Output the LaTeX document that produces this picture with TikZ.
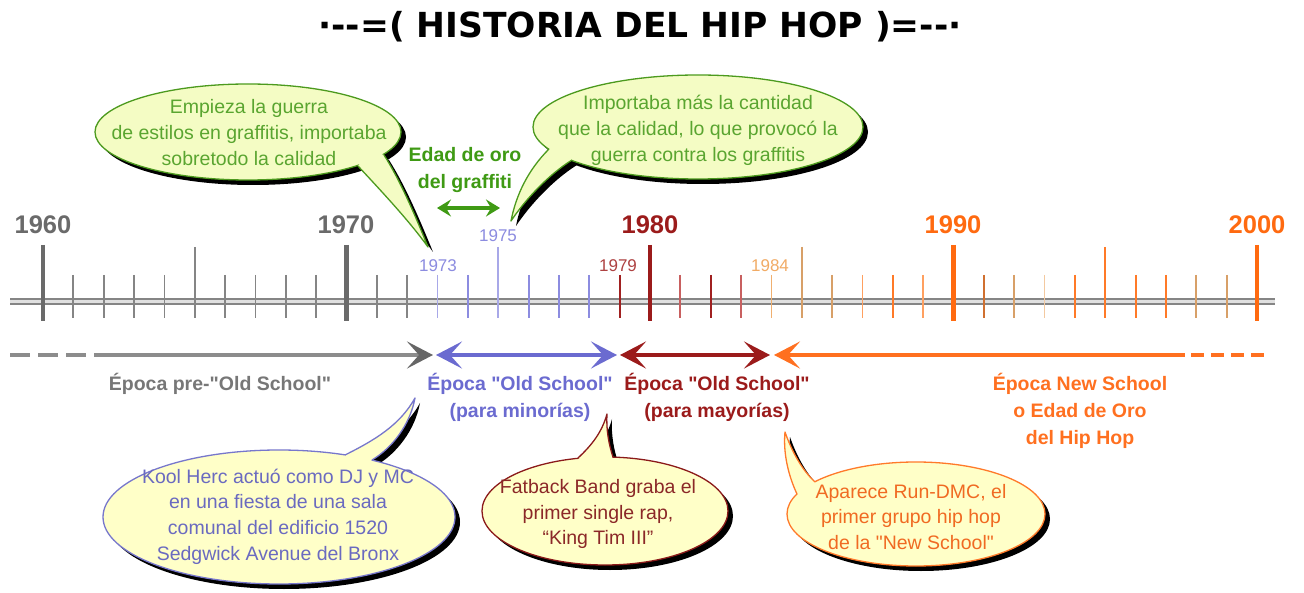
\documentclass[tikz,border=0pt]{standalone}
\usepackage{fontspec}
\setmainfont{Liberation Sans}[Ligatures=TeXOff]
\newfontfamily\titlefont{DejaVu Sans}[Ligatures=TeXOff]
\usetikzlibrary{arrows.meta,shapes.geometric}
\definecolor{tgray}{HTML}{858585}
\definecolor{tdark}{HTML}{6A6A6A}
\definecolor{tblue}{HTML}{8C8CE0}
\definecolor{tblueL}{HTML}{A8A8E8}
\definecolor{tred}{HTML}{A02020}
\definecolor{tredL}{HTML}{C86060}
\definecolor{tdred}{HTML}{9B1B1B}
\definecolor{torL}{HTML}{F0B070}
\definecolor{ttan}{HTML}{D8A068}
\definecolor{torL2}{HTML}{FFA060}
\definecolor{tor}{HTML}{FF7A28}
\definecolor{torD}{HTML}{FF6A10}
\definecolor{tbr}{HTML}{D07030}
\definecolor{tpale}{HTML}{F3C9A0}
\definecolor{gline}{HTML}{4C9A1E}
\definecolor{gtext}{HTML}{5AA530}
\definecolor{gbold}{HTML}{3F9A14}
\definecolor{gfill}{HTML}{F4FCC4}
\definecolor{yfill}{HTML}{FFFFC8}
\definecolor{bline}{HTML}{7777CC}
\definecolor{btext}{HTML}{6A6AC0}
\definecolor{rline}{HTML}{8B1A1A}
\definecolor{rtext}{HTML}{8B2828}
\definecolor{oline}{HTML}{FF7A2A}
\definecolor{otext}{HTML}{F06A22}
\definecolor{lgray}{HTML}{777777}
\definecolor{lblue}{HTML}{6B6BD0}
\definecolor{lorange}{HTML}{FF7020}
\tikzset{
  tick/.style={line width=1.8pt},
  bigtick/.style={line width=4.5pt},
  lbl/.style={font=\bfseries\fontsize{19.5}{27}\selectfont, align=center, inner sep=0pt},
  btxt/.style={font=\fontsize{19.5}{25.7}\selectfont, align=center, inner sep=0pt},
  yr/.style={font=\bfseries\fontsize{25.5}{30}\selectfont, inner sep=0pt},
  syr/.style={font=\fontsize{17}{20}\selectfont, inner sep=0pt},
  bub/.style={ellipse, inner sep=0pt, outer sep=0pt, line width=1.3pt},
  shad/.style={ellipse, inner sep=0pt, outer sep=0pt, fill=black},
  era/.style={line width=4.5pt},
  tailline/.style={line width=1.3pt, line join=round},
  myhead/.tip={Stealth[length=26pt,width=27pt,inset=12pt]},
  smallhead/.tip={Stealth[length=14pt,width=17pt,inset=5pt]}
}
\begin{document}
\begin{tikzpicture}[x=1pt,y=-1pt]
\useasboundingbox (0,0) rectangle (1304,593);
\fill[white] (0,0) rectangle (1304,593);

% title
\node[font=\titlefont\bfseries\fontsize{34.5}{41}\selectfont, inner sep=0pt] (title) at (640,27) {·--=( HISTORIA DEL HIP HOP )=--·};

% axis
\draw[draw=tgray, line width=1.6pt, double=black!12, double distance=3.4pt] (10,301.5) -- (1275,301.5);

% minor ticks
\foreach \yr/\cc in {1961/tgray,1962/tgray,1963/tgray,1964/tgray,1966/tgray,1967/tgray,1968/tgray,1969/tgray,1971/tgray,1972/tgray,
  1973/tblueL,1974/tblue,1976/tblue,1977/tblue,1978/tblue,1979/tred,1981/tredL,1982/tred,1983/tredL,
  1984/torL,1986/ttan,1987/torL2,1988/tor,1989/torL2,1991/tbr,1992/ttan,1993/tpale,1994/tor,1996/tor,1997/tor,1998/ttan,1999/ttan}
  \draw[tick,\cc] ({43+(\yr-1960)*30.35},275) -- ({43+(\yr-1960)*30.35},318);
% five-year ticks
\foreach \yr/\cc in {1965/tgray,1975/tblueL,1985/ttan,1995/tor}
  \draw[tick,\cc] ({43+(\yr-1960)*30.35},247) -- ({43+(\yr-1960)*30.35},318);
% decade ticks
\foreach \yr/\cc in {1960/tdark,1970/tdark,1980/tdred,1990/torD,2000/torD}
  \draw[bigtick,\cc] ({43+(\yr-1960)*30.35},245) -- ({43+(\yr-1960)*30.35},321);

% decade labels
\node[yr, tdark] (y1960) at (43,225) {1960};
\node[yr, tdark] (y1970) at (346,225) {1970};
\node[yr, tdred] (y1980) at (650,225) {1980};
\node[yr, torD] (y1990) at (953,225) {1990};
\node[yr, torD] (y2000) at (1257,225) {2000};
% small year labels
\node[syr, tblue] (y1973) at (438,266) {1973};
\node[syr, tblue] (y1975) at (498,236) {1975};
\node[syr, tred!85] (y1979) at (618,266) {1979};
\node[syr, torL!90!orange] (y1984) at (770,266) {1984};

% era arrows
\coordinate (g0) at (10,355);
\coordinate (g1) at (90,355);
\coordinate (g2) at (94,355);
\coordinate (g3) at (433,355);
\coordinate (b0) at (436,355);
\coordinate (b1) at (617,355);
\coordinate (r0) at (620,355);
\coordinate (r1) at (770,355);
\coordinate (o0) at (774,355);
\coordinate (o1) at (1185,355);
\coordinate (o2) at (1191,355);
\coordinate (o3) at (1268,355);
\draw[era, black!45, dash pattern=on 20pt off 8pt] (g0) -- (g1);
\draw[era, black!45, -{myhead[color=black!60]}] (g2) -- (g3);
\draw[era, lblue, {myhead}-{myhead}] (b0) -- (b1);
\draw[era, tdred, {myhead}-{myhead}] (r0) -- (r1);
\draw[era, lorange, {myhead}-] (o0) -- (o1);
\draw[era, lorange, dash pattern=on 13pt off 7pt] (o2) -- (o3);

% era labels
\node[lbl, lgray] (e1) at (220,384) {Época pre-"Old School"};
\node[lbl, lblue] (e2) at (520,397) {Época "Old School"\\(para minorías)};
\node[lbl, tdred] (e3) at (717,397) {Época "Old School"\\(para mayorías)};
\node[lbl, lorange] (e4) at (1080,410.5) {Época New School\\o Edad de Oro\\del Hip Hop};

% golden age of graffiti
\node[lbl, gbold] (gold) at (465,170) {Edad de oro\\del graffiti};
\coordinate (ga) at (437,208);
\coordinate (gb) at (500,208);
\draw[line width=4pt, gbold, {smallhead}-{smallhead}] (ga) -- (gb);

% ---------- bubble 1 (top left, green)
\begin{scope}[shift={(5,5)}]
\fill[black] (358,166) .. controls (385,195) and (410,222) .. (428,247) .. controls (415,215) and (400,180) .. (384,155) -- (370,150) -- cycle;
\end{scope}
\node[shad, minimum width=306pt, minimum height=96pt] (s1) at (253,137) {};
\node[bub, draw=gline, fill=gfill, minimum width=306pt, minimum height=96pt] (k1) at (248,132) {};
\fill[gfill] (358,166) .. controls (385,195) and (410,222) .. (428,247) .. controls (415,215) and (400,180) .. (384,155) -- (370,150) -- cycle;
\coordinate (t1) at (428,247);
\draw[tailline, gline] (358,166) .. controls (385,195) and (410,222) .. (t1) .. controls (415,215) and (400,180) .. (384,155);
\node[btxt, gtext] (x1) at (249,132.5) {Empieza la guerra\\de estilos en graffitis, importaba\\sobretodo la calidad};

% ---------- bubble 2 (top right, green)
\begin{scope}[shift={(5,5)}]
\fill[black] (549,149) .. controls (528,170) and (516,195) .. (511,221) .. controls (525,200) and (548,175) .. (572,160) -- (565,148) -- cycle;
\end{scope}
\node[shad, minimum width=330pt, minimum height=104pt] (s2) at (703,132) {};
\node[bub, draw=gline, fill=gfill, minimum width=330pt, minimum height=104pt] (k2) at (698,127) {};
\fill[gfill] (549,149) .. controls (528,170) and (516,195) .. (511,221) .. controls (525,200) and (548,175) .. (572,160) -- (565,148) -- cycle;
\coordinate (t2) at (511,221);
\draw[tailline, gline] (549,149) .. controls (528,170) and (516,195) .. (t2) .. controls (525,200) and (548,175) .. (572,160);
\node[btxt, gtext] (x2) at (698,130.5) {Importaba más la cantidad\\que la calidad, lo que provocó la\\guerra contra los graffitis};

% ---------- bubble 3 (bottom left, blue)
\begin{scope}[shift={(5,5)}]
\fill[black] (345,455) .. controls (375,440) and (400,425) .. (415,398) .. controls (410,425) and (392,448) .. (372,460) -- (360,468) -- cycle;
\end{scope}
\node[shad, minimum width=352pt, minimum height=134pt] (s3) at (284,522) {};
\node[bub, draw=bline, fill=yfill, minimum width=352pt, minimum height=134pt] (k3) at (279,517) {};
\fill[yfill] (345,455) .. controls (375,440) and (400,425) .. (415,398) .. controls (410,425) and (392,448) .. (372,460) -- (360,468) -- cycle;
\coordinate (t3) at (415,398);
\draw[tailline, bline] (345,455) .. controls (375,440) and (400,425) .. (t3) .. controls (410,425) and (392,448) .. (372,460);
\node[btxt, btext] (x3) at (278,516.5) {Kool Herc actuó como DJ y MC\\en una fiesta de una sala\\comunal del edificio 1520\\Sedgwick Avenue del Bronx};

% ---------- bubble 4 (bottom middle, red)
\begin{scope}[shift={(5,5)}]
\fill[black] (578,458) .. controls (592,445) and (602,432) .. (607,414) .. controls (606,430) and (609,445) .. (613,457) -- (595,468) -- cycle;
\end{scope}
\node[shad, minimum width=246pt, minimum height=108pt] (s4) at (610,516) {};
\node[bub, draw=rline, fill=yfill, minimum width=246pt, minimum height=108pt] (k4) at (605,511) {};
\fill[yfill] (578,458) .. controls (592,445) and (602,432) .. (607,414) .. controls (606,430) and (609,445) .. (613,457) -- (595,468) -- cycle;
\coordinate (t4) at (607,414);
\draw[tailline, rline] (578,458) .. controls (592,445) and (602,432) .. (t4) .. controls (606,430) and (609,445) .. (613,457);
\node[btxt, rtext] (x4) at (598,514) {Fatback Band graba el\\primer single rap,\\“King Tim III”};

% ---------- bubble 5 (bottom right, orange)
\begin{scope}[shift={(5,5)}]
\fill[black] (797,494) .. controls (788,475) and (783,452) .. (785,432) .. controls (792,452) and (802,470) .. (815,482) -- (812,495) -- cycle;
\end{scope}
\node[shad, minimum width=258pt, minimum height=104pt] (s5) at (921,519) {};
\node[bub, draw=oline, fill=yfill, minimum width=258pt, minimum height=104pt] (k5) at (916,514) {};
\fill[yfill] (797,494) .. controls (788,475) and (783,452) .. (785,432) .. controls (792,452) and (802,470) .. (815,482) -- (812,495) -- cycle;
\coordinate (t5) at (785,432);
\draw[tailline, oline] (797,494) .. controls (788,475) and (783,452) .. (t5) .. controls (792,452) and (802,470) .. (815,482);
\node[btxt, otext] (x5) at (911,517) {Aparece Run-DMC, el\\primer grupo hip hop\\de la "New School"};
\end{tikzpicture}
\end{document}
